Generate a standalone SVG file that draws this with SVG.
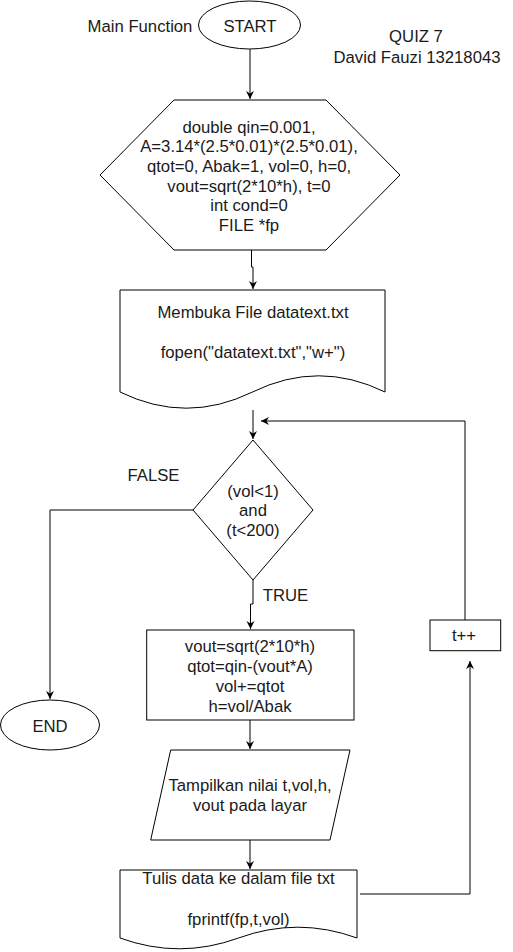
<svg xmlns="http://www.w3.org/2000/svg" width="513" height="952" viewBox="0 0 513 952">
<defs>
<marker id="arr" markerUnits="userSpaceOnUse" markerWidth="10" markerHeight="10" refX="8" refY="4" orient="auto">
<path d="M0,0 L8,4 L0,8 L2.5,4 Z" fill="#000"/>
</marker>
<style>
.s{fill:#fff;stroke:#000;stroke-width:1}
.c{fill:none;stroke:#000;stroke-width:1;marker-end:url(#arr)}
.l{fill:none;stroke:#000;stroke-width:1}
text{font-family:"Liberation Sans",Arial,sans-serif;font-size:16.7px;fill:#1a1a1a;text-anchor:middle}
</style>
</defs>
<rect width="513" height="952" fill="#fff"/>
<g id="connectors">
<path class="c" d="M250,49 V99"/>
<path class="c" d="M251.5,250 V267 H253 V289"/>
<path class="c" d="M253,410 V439"/>
<path class="c" d="M253,580 V604 H250.5 V629"/>
<path class="c" d="M193,510 H50 V699"/>
<path class="c" d="M250,720 V749"/>
<path class="c" d="M250,840 V869"/>
<path class="c" d="M360,894 H470 V661"/>
<path class="c" d="M465,620 V421 H261"/>
</g>
<g id="label-main"><text x="140" y="32">Main Function</text></g>
<g id="label-quiz"><text x="416" y="42">QUIZ 7</text><text x="417" y="63">David Fauzi 13218043</text></g>
<g id="start"><ellipse class="s" cx="249.5" cy="25" rx="51" ry="24"/><text x="250" y="32">START</text></g>
<g id="init">
<polygon class="s" points="174,100 326,100 400,175 326,250 174,250 100,175"/>
<text x="249" y="132.5">double qin=0.001,</text>
<text x="249" y="152.2">A=3.14*(2.5*0.01)*(2.5*0.01),</text>
<text x="249" y="171.9">qtot=0, Abak=1, vol=0, h=0,</text>
<text x="249" y="191.6">vout=sqrt(2*10*h), t=0</text>
<text x="249" y="211.3">int cond=0</text>
<text x="249" y="231">FILE *fp</text>
</g>
<g id="openfile">
<path class="s" d="M120,290 H385 V392 Q318.75,359.6 252.5,392 Q186.25,424.4 120,392 Z"/>
<text x="253" y="318.3">Membuka File datatext.txt</text>
<text x="253" y="357.7">fopen("datatext.txt","w+")</text>
</g>
<g id="decision">
<polygon class="s" points="253,440 313,510 253,580 193,510"/>
<text x="253" y="496.7">(vol&lt;1)</text>
<text x="253" y="516">and</text>
<text x="253" y="536">(t&lt;200)</text>
</g>
<g id="label-false"><text x="153.5" y="481">FALSE</text></g>
<g id="label-true"><text x="285.5" y="601">TRUE</text></g>
<g id="end"><ellipse class="s" cx="50" cy="725" rx="49.5" ry="25"/><text x="50" y="731.5">END</text></g>
<g id="process">
<rect class="s" x="146.7" y="630" width="207.3" height="90"/>
<text x="250" y="651.7">vout=sqrt(2*10*h)</text>
<text x="250" y="671.7">qtot=qin-(vout*A)</text>
<text x="250" y="691.7">vol+=qtot</text>
<text x="250" y="711.7">h=vol/Abak</text>
</g>
<g id="display">
<polygon class="s" points="170.7,750 350,750 330,840 150.7,840"/>
<text x="250" y="791">Tampilkan nilai t,vol,h,</text>
<text x="250" y="811">vout pada layar</text>
</g>
<g id="writefile">
<path class="s" d="M120,870 H357 V938 Q297.75,916.4 238.5,938 Q179.25,959.6 120,938 Z"/>
<text x="238.5" y="884.3">Tulis data ke dalam file txt</text>
<text x="238.5" y="925.3">fprintf(fp,t,vol)</text>
</g>
<g id="increment">
<rect class="s" x="430" y="620" width="70.7" height="30.7"/>
<text x="464" y="640.5">t++</text>
</g>
</svg>
